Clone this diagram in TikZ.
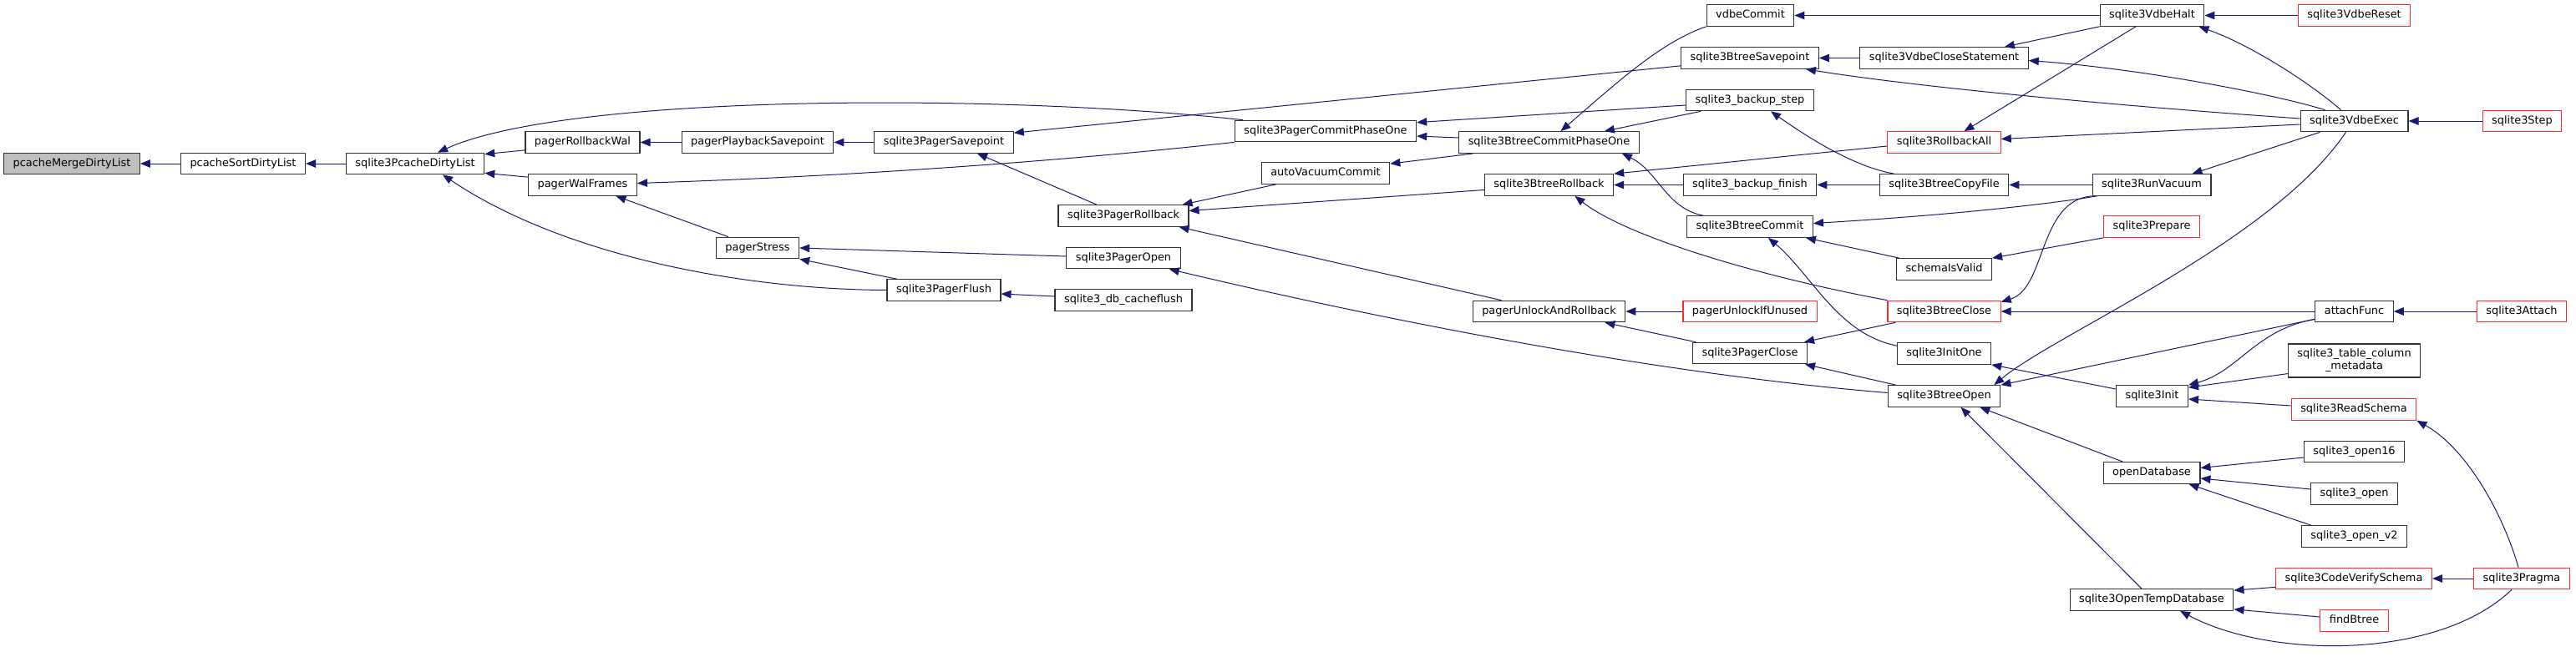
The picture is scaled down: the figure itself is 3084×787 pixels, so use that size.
\documentclass[tikz,border=0pt]{standalone}
\usepackage{fontspec}
\setmainfont{DejaVu Sans}
\usetikzlibrary{arrows.meta}
\definecolor{edgeblue}{HTML}{191970}
\definecolor{truncred}{HTML}{FF2A2A}

\begin{document}
\begin{tikzpicture}[
  x=1pt,y=-1pt,
  >={Triangle[length=12pt,width=9.5pt]},
  fn/.style={draw=black!80,line width=1.2pt,fill=white,minimum height=25.5pt,
    inner xsep=11pt,inner ysep=0pt,font=\fontsize{12.9}{15}\selectfont,
    text height=9.6pt,text depth=2.8pt},
  root/.style={fn,fill=black!25},
  trunc/.style={fn,draw=truncred},
  calls/.style={<-,draw=edgeblue,line width=1pt}
]
  \useasboundingbox (0,0) rectangle (3084,787);

  \node[root] (merge) at (86,196) {pcacheMergeDirtyList};
  \node[fn] (sort) at (291,196) {pcacheSortDirtyList};
  \node[fn] (dirty) at (497,196) {sqlite3PcacheDirtyList};
  \node[fn] (rbwal) at (697.5,170.5) {pagerRollbackWal};
  \node[fn] (walframes) at (697.5,221.5) {pagerWalFrames};
  \node[fn] (playback) at (907,170.5) {pagerPlaybackSavepoint};
  \node[fn] (stress) at (907,297) {pagerStress};
  \node[fn] (psavept) at (1130,170.5) {sqlite3PagerSavepoint};
  \node[fn] (pflush) at (1130,347.5) {sqlite3PagerFlush};
  \node[fn] (prollback) at (1345,258.5) {sqlite3PagerRollback};
  \node[fn] (popen) at (1345,309) {sqlite3PagerOpen};
  \node[fn] (cacheflush) at (1345,359.5) {sqlite3\_db\_cacheflush};
  \node[fn] (pcommit1) at (1587,157) {sqlite3PagerCommitPhaseOne};
  \node[fn] (autovac) at (1587,207.5) {autoVacuumCommit};
  \node[fn] (bcommit1) at (1854.5,170.5) {sqlite3BtreeCommitPhaseOne};
  \node[fn] (brollback) at (1854.5,221.5) {sqlite3BtreeRollback};
  \node[fn] (unlockrb) at (1854.5,373) {pagerUnlockAndRollback};
  \node[fn] (vdbecommit) at (2095.5,18.5) {vdbeCommit};
  \node[fn] (bsavept) at (2095,69.5) {sqlite3BtreeSavepoint};
  \node[fn] (bkstep) at (2095,120) {sqlite3\_backup\_step};
  \node[fn] (bkfinish) at (2095,221.5) {sqlite3\_backup\_finish};
  \node[fn] (bcommit) at (2095,271.5) {sqlite3BtreeCommit};
  \node[trunc] (unlockifunused) at (2095,373) {pagerUnlockIfUnused};
  \node[fn] (pclose) at (2095,423) {sqlite3PagerClose};
  \node[fn] (closestmt) at (2327.5,69.5) {sqlite3VdbeCloseStatement};
  \node[trunc] (rollbackall) at (2327.5,170.5) {sqlite3RollbackAll};
  \node[fn] (copyfile) at (2327.5,221.5) {sqlite3BtreeCopyFile};
  \node[fn] (schemavalid) at (2327.5,322.5) {schemaIsValid};
  \node[trunc] (bclose) at (2327.5,373) {sqlite3BtreeClose};
  \node[fn] (initone) at (2327.5,423.5) {sqlite3InitOne};
  \node[fn] (bopen) at (2327.5,474.5) {sqlite3BtreeOpen};
  \node[fn] (halt) at (2576.5,18.5) {sqlite3VdbeHalt};
  \node[fn] (vacuum) at (2576,221.5) {sqlite3RunVacuum};
  \node[trunc] (prepare) at (2576,271.5) {sqlite3Prepare};
  \node[fn] (init) at (2576.5,474.5) {sqlite3Init};
  \node[fn] (opendb) at (2576,566.5) {openDatabase};
  \node[fn] (opentemp) at (2576,718.5) {sqlite3OpenTempDatabase};
  \node[trunc] (reset) at (2818.5,18.5) {sqlite3VdbeReset};
  \node[fn] (exec) at (2818.5,145) {sqlite3VdbeExec};
  \node[fn] (attachfn) at (2818.5,373) {attachFunc};
  \node[fn,align=center,text height={},text depth={},minimum height=40pt]
    (tcmeta) at (2818.5,432) {sqlite3\_table\_column\\\_metadata};
  \node[trunc] (readschema) at (2818,490.5) {sqlite3ReadSchema};
  \node[fn] (open16) at (2818.5,541) {sqlite3\_open16};
  \node[fn] (open) at (2818.5,591.5) {sqlite3\_open};
  \node[fn] (openv2) at (2818.5,642.5) {sqlite3\_open\_v2};
  \node[trunc] (verifyschema) at (2818,693) {sqlite3CodeVerifySchema};
  \node[trunc] (findbtree) at (2818.5,743.5) {findBtree};
  \node[trunc] (stepfn) at (3019.5,145) {sqlite3Step};
  \node[trunc] (attach) at (3019,373) {sqlite3Attach};
  \node[trunc] (pragma) at (3019,693) {sqlite3Pragma};

  \draw[calls] (merge) -- (sort);
  \draw[calls] (sort) -- (dirty);
  \draw[calls] ([xshift=27pt]dirty.north) .. controls (680,112) and (1200,112) .. ([xshift=10pt]pcommit1.north west);
  \draw[calls] ([yshift=-2pt]dirty.north east) -- ([yshift=4pt]rbwal.south west);
  \draw[calls] ([yshift=2pt]dirty.south east) -- ([yshift=-4pt]walframes.north west);
  \draw[calls] ([xshift=33pt]dirty.south) .. controls (680,310) and (900,347) .. (pflush.west);
  \draw[calls] (rbwal) -- (playback);
  \draw[calls] (playback) -- (psavept);
  \draw[calls] ([yshift=2pt]walframes.east) .. controls (1050,210) and (1300,190) .. (pcommit1.south west);
  \draw[calls] ([xshift=40pt]walframes.south) -- ([xshift=-35pt]stress.north);
  \draw[calls] (stress.east) -- ([yshift=2pt]popen.west);
  \draw[calls] (stress.south east) -- ([xshift=12pt]pflush.north west);
  \draw[calls] ([yshift=-2pt]psavept.north east) -- ([yshift=4pt]bsavept.south west);
  \draw[calls] ([xshift=40pt]psavept.south) -- ([xshift=-32pt]prollback.north);
  \draw[calls] ([xshift=-8pt]prollback.north east) -- ([xshift=18pt]autovac.south west);
  \draw[calls] ([yshift=6pt]prollback.east) -- ([yshift=-6pt]brollback.west);
  \draw[calls] ([xshift=-12pt]prollback.south east) -- ([xshift=-57pt]unlockrb.north);
  \draw[calls] ([yshift=-4.5pt]pflush.east) -- ([yshift=4.5pt]cacheflush.west);
  \draw[calls] ([xshift=-14pt]popen.south east) .. controls (1600,370) and (1950,445) .. ([yshift=4pt]bopen.west);
  \draw[calls] ([yshift=-6pt]pcommit1.east) -- ([yshift=5.5pt]bcommit1.west);
  \draw[calls] ([yshift=-3pt]pcommit1.north east) -- ([yshift=-6pt]bkstep.west);
  \draw[calls] ([yshift=-2pt]autovac.north east) -- ([xshift=18pt]bcommit1.south west);
  \draw[calls] ([xshift=14pt]bcommit1.north) .. controls (1940,95) and (1990,50) .. (vdbecommit.south west);
  \draw[calls] ([xshift=-42pt]bcommit1.north east) -- ([xshift=18pt]bkstep.south west);
  \draw[calls] ([xshift=-21pt]bcommit1.south east) .. controls (1985,205) and (1995,250) .. ([xshift=20pt]bcommit.north west);
  \draw[calls] (brollback.north east) -- ([yshift=-4.5pt]rollbackall.west);
  \draw[calls] (brollback) -- (bkfinish);
  \draw[calls] ([xshift=31pt]brollback.south) .. controls (1945,282) and (2100,330) .. (bclose.north west);
  \draw[calls] (unlockrb) -- (unlockifunused);
  \draw[calls] ([xshift=-25pt]unlockrb.south east) -- ([xshift=4pt]pclose.north west);
  \draw[calls] ([xshift=-4pt]pclose.north east) -- ([xshift=10pt]bclose.south west);
  \draw[calls] ([xshift=-3pt]pclose.south east) -- ([xshift=10pt]bopen.north west);
  \draw[calls] ([yshift=4pt]bcommit.east) .. controls (2330,258) and (2450,245) .. ([xshift=6pt]vacuum.south west);
  \draw[calls] ([xshift=-9pt]bcommit.south east) -- ([xshift=4pt]schemavalid.north west);
  \draw[calls] ([xshift=22pt]bcommit.south) .. controls (2170,330) and (2200,400) .. ([yshift=-4pt]initone.north west);
  \draw[calls] (vdbecommit) -- (halt);
  \draw[calls] (bsavept) -- (closestmt);
  \draw[calls] ([xshift=-16pt]bsavept.south east) .. controls (2300,105) and (2550,128) .. ([yshift=3pt]exec.west);
  \draw[calls] ([xshift=-29pt]closestmt.north east) -- (halt.south west);
  \draw[calls] ([yshift=-3pt]closestmt.east) .. controls (2560,82) and (2720,112) .. ([xshift=30pt]exec.north west);
  \draw[calls] ([xshift=25pt]bkstep.south) .. controls (2165,165) and (2220,200) .. ([xshift=18pt]copyfile.north west);
  \draw[calls] ([xshift=24pt]rollbackall.north) -- ([xshift=-19.5pt]halt.south);
  \draw[calls] ([yshift=4pt]rollbackall.east) -- ([yshift=-4pt]exec.west);
  \draw[calls] (bkfinish) -- (copyfile);
  \draw[calls] (copyfile) -- (vacuum);
  \draw[calls] (schemavalid.north east) -- (prepare.south west);
  \draw[calls] ([yshift=-2pt]bclose.north east) .. controls (2450,345) and (2440,240) .. (vacuum.south west);
  \draw[calls] (bclose) -- (attachfn);
  \draw[calls] ([xshift=-8pt]bopen.north east) .. controls (2460,400) and (2720,290) .. ([xshift=-10pt]exec.south);
  \draw[calls] (bopen.north east) -- ([yshift=4pt]attachfn.south west);
  \draw[calls] ([xshift=-25pt]bopen.south east) -- ([xshift=24pt]opendb.north west);
  \draw[calls] ([xshift=20pt]bopen.south) -- ([xshift=-12pt]opentemp.north);
  \draw[calls] (initone.south east) -- ([yshift=8.5pt]init.west);
  \draw[calls] (init.north east) .. controls (2680,445) and (2700,395) .. ([yshift=4pt]attachfn.south west);
  \draw[calls] ([yshift=-3pt]init.north east) -- ([yshift=5pt]tcmeta.south west);
  \draw[calls] ([yshift=-3.5pt]init.east) -- ([yshift=4.5pt]readschema.west);
  \draw[calls] (readschema.south east) .. controls (2950,535) and (2995,610) .. ([xshift=-4pt]pragma.north);
  \draw[calls] ([yshift=6pt]opendb.east) -- ([yshift=-7pt]open16.west);
  \draw[calls] ([yshift=-6.5pt]opendb.east) -- ([yshift=5.5pt]open.west);
  \draw[calls] ([xshift=-14pt]opendb.south east) -- ([xshift=12pt]openv2.north west);
  \draw[calls] ([yshift=-2pt]opentemp.north east) -- ([yshift=3pt]verifyschema.south west);
  \draw[calls] ([yshift=2pt]opentemp.south east) -- ([yshift=4.5pt]findbtree.west);
  \draw[calls] ([xshift=34pt]opentemp.south) .. controls (2720,790) and (2920,790) .. ([xshift=-12pt]pragma.south);
  \draw[calls] (verifyschema) -- (pragma);
  \draw[calls] (halt) -- (reset);
  \draw[calls] ([xshift=-7pt]halt.south east) .. controls (2690,52) and (2760,95) .. ([xshift=-16pt]exec.north);
  \draw[calls] (exec) -- (stepfn);
  \draw[calls] ([xshift=-23pt]vacuum.north east) -- ([xshift=24pt]exec.south west);
  \draw[calls] (attachfn) -- (attach);
\end{tikzpicture}
\end{document}
